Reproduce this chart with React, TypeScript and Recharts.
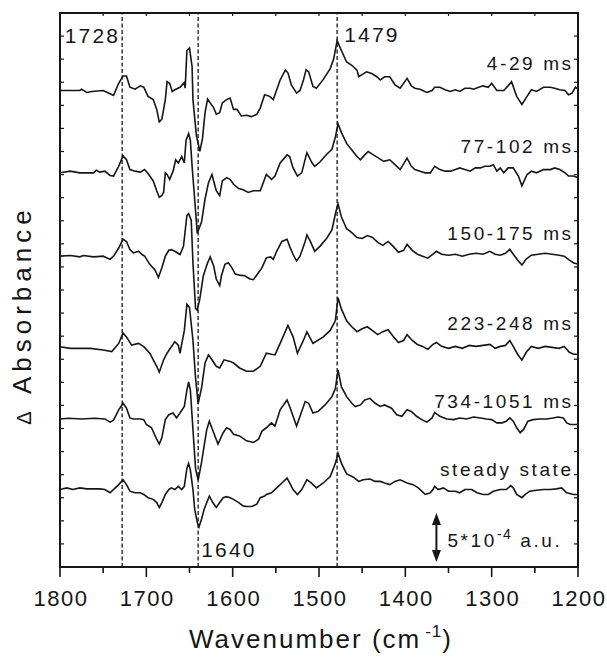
import React from "react";
import { LineChart, Line, XAxis, YAxis, ReferenceLine, ReferenceArea, ReferenceDot } from "recharts";

// [wavenumber (cm-1), ΔA in 1e-5 a.u. relative to that trace's own baseline]
const trace4to29ms: [number, number][] = [
  [1800, 0], [1777, 0], [1775, 1.3], [1769, -2], [1763, -1], [1750, 0], [1742, -3.3], [1738, -5], [1732, 7.3],
  [1727, 14.7], [1723, 14.7], [1719, 3.3], [1713, 1.3], [1707, 4.7], [1703, 3.3], [1698, -6], [1692, -9.3],
  [1688, -19.3], [1685, -32], [1682, -29.3], [1678, -9.3], [1676, 9], [1673, 7.3], [1670, -1], [1667, 0.7],
  [1661, 3.3], [1656, 8], [1655, 2.3], [1653, 40.7], [1650, 43.3], [1647, 24], [1646, -9.3], [1642, -46],
  [1638, -62], [1635, -49.3], [1632, -22.7], [1629, -8.7], [1626, -12.7], [1622, -17.7], [1619, -24.3],
  [1615, -22.7], [1612, -12.7], [1607, -9.3], [1603, -7.7], [1599, -19.3], [1595, -19.3], [1590, -26],
  [1584, -25.3], [1578, -26.7], [1572, -24.3], [1568, -17.7], [1563, -4.3], [1557, -6], [1553, -9.3],
  [1545, 10.7], [1539, 20.7], [1536, 18], [1532, 5.7], [1526, -2.7], [1522, 0], [1518, 10.7], [1515, 21],
  [1512, 19], [1507, 4], [1503, 2.3], [1495, 11.3], [1487, 22.3], [1483, 32.3], [1479, 50.7], [1474, 40.7],
  [1468, 29], [1462, 25.7], [1456, 20.7], [1454, 14], [1451, 15.7], [1445, 19], [1439, 17.3], [1433, 14],
  [1429, 10.7], [1424, 14], [1418, 14], [1412, 5.7], [1406, 2.3], [1398, 12.3], [1393, 4.7], [1389, 2.3],
  [1383, 1.3], [1375, -2], [1369, 0], [1366, 3.3], [1360, 3.3], [1354, 0.7], [1348, -1], [1342, 0.7],
  [1337, -1], [1331, 2.3], [1325, 2.3], [1321, 1.3], [1315, 3.3], [1310, 4.7], [1304, 3.3], [1300, 7.3],
  [1294, 0], [1286, 0], [1281, 4.7], [1277, 9], [1271, -6], [1265, -14.3], [1259, -6], [1254, 0.7],
  [1248, -1], [1240, 3.3], [1232, 3.3], [1227, 2.3], [1221, 0.7], [1215, 0], [1211, -4.3], [1207, -2.7],
  [1203, 3.3], [1200, 1.3],
];

const trace77to102ms: [number, number][] = [
  [1800, 0], [1788, 1.7], [1777, 0], [1761, 0], [1758, 2.7], [1754, 0.7], [1748, 1.7], [1742, -2.7],
  [1738, -3.3], [1732, 6.7], [1727, 17.3], [1723, 13.3], [1719, 3.3], [1713, 1.7], [1707, 0.7], [1702, 3.3],
  [1698, -0.7], [1692, -8.3], [1688, -18.3], [1685, -25], [1682, -23], [1680, -20], [1678, 0], [1676, -1.7],
  [1673, -6.7], [1669, 1.7], [1666, 13.3], [1663, 10], [1659, 16.7], [1656, 10], [1654, 33.3], [1651, 40],
  [1649, 33.3], [1647, 6.7], [1644, -26.7], [1641, -61.7], [1636, -50], [1632, -26.7], [1628, -10],
  [1624, -1.7], [1622, -8.3], [1619, -18.3], [1615, -23.3], [1612, -8.3], [1607, -5], [1603, -6.7],
  [1599, -11.7], [1593, -16], [1588, -17.3], [1582, -20], [1576, -18.3], [1568, -18.3], [1561, -1.7],
  [1555, -6.7], [1551, -3.3], [1545, 10], [1537, 18.3], [1534, 16.7], [1530, 5], [1525, -3.3], [1520, 0],
  [1516, 14], [1514, 20.5], [1508, 10], [1505, 6.7], [1499, 11], [1491, 19], [1485, 24], [1481, 36.7],
  [1478, 50], [1474, 41], [1468, 30], [1462, 23.3], [1456, 16.7], [1452, 13.3], [1447, 18.3], [1443, 21.7],
  [1437, 18.3], [1431, 15], [1425, 11.7], [1418, 13.3], [1412, 8.3], [1406, 3.3], [1398, 15], [1393, 6.7],
  [1389, 3.3], [1383, 1.7], [1377, 0], [1371, 0], [1366, 6.7], [1360, 3.3], [1354, 1.7], [1348, 1.7],
  [1342, 3.3], [1337, 5], [1331, 3.3], [1325, 1.7], [1319, 5], [1313, 5], [1308, 6.7], [1302, 6.7],
  [1298, 8.3], [1294, 1.7], [1290, 5], [1286, 0], [1281, 5], [1275, 5], [1269, -3.3], [1265, -13.3],
  [1259, -1.7], [1254, 1.7], [1248, 0], [1240, 3.3], [1232, 3.3], [1227, 5], [1221, 3.3], [1215, 0],
  [1211, -3.3], [1205, -3.3], [1200, -5],
];

const trace150to175ms: [number, number][] = [
  [1800, 0], [1788, 0.7], [1777, -0.7], [1773, 0.7], [1761, -0.7], [1750, 0], [1742, -3.3], [1738, 0],
  [1732, 8.3], [1727, 17.3], [1723, 15], [1719, 6.7], [1715, 3.3], [1709, 5], [1705, 1.7], [1702, 0],
  [1696, -8.3], [1690, -14], [1686, -21.7], [1682, -11.7], [1678, 0], [1674, 6], [1671, 6.7], [1667, 5],
  [1661, 1.7], [1657, 10], [1653, 41.7], [1651, 43.3], [1648, 36.7], [1646, -6.7], [1643, -53.3],
  [1641, -55], [1638, -43.3], [1634, -20], [1629, -6.7], [1626, -0.7], [1622, -10], [1619, -23.3],
  [1615, -30], [1613, -20], [1609, -8.3], [1605, -6.7], [1601, -11.7], [1597, -18.3], [1592, -19.3],
  [1586, -20], [1580, -23.3], [1576, -24], [1570, -16.7], [1566, -11.7], [1561, -1.7], [1556, -0.7],
  [1553, -3.3], [1549, 5], [1543, 15], [1537, 17.3], [1534, 10], [1530, 1.7], [1526, -5], [1522, 0],
  [1516, 15], [1514, 21.7], [1510, 15], [1505, 5], [1499, 10], [1491, 18.3], [1485, 26.7], [1481, 43.3],
  [1478, 53.3], [1474, 40], [1468, 28], [1462, 24], [1456, 19], [1450, 18], [1444, 21], [1438, 19],
  [1432, 14], [1426, 11], [1420, 15], [1414, 10], [1408, 4], [1402, 6], [1398, 12], [1392, 6], [1386, 2],
  [1380, 0], [1374, -2], [1368, 2], [1364, 5], [1358, 2], [1350, 1], [1342, 2], [1334, 0], [1326, 2],
  [1318, 3], [1310, 2], [1302, 5], [1296, 2], [1290, 1], [1284, 3], [1279, 7], [1275, 2], [1270, -4],
  [1265, -9], [1260, -3], [1254, 1], [1246, 2], [1238, 3], [1230, 2], [1222, 1], [1216, 0], [1210, -4],
  [1205, -7], [1200, -8],
];

const trace223to248ms: [number, number][] = [
  [1800, 1.7], [1788, 0], [1777, 0], [1765, 0], [1750, -1.7], [1740, -3.3], [1732, 5], [1727, 15.7],
  [1723, 11.7], [1717, 3.3], [1709, 5], [1703, 1.7], [1696, -5], [1688, -18.3], [1685, -24.3], [1680, -11.7],
  [1676, -5], [1671, 1.7], [1667, 6.7], [1663, 3.3], [1661, -5], [1656, 18.3], [1653, 45], [1650, 41.7],
  [1646, 8.3], [1643, -30], [1640, -56.7], [1636, -40], [1632, -15], [1628, -6.7], [1624, -11.7],
  [1619, -18.3], [1615, -20], [1610, -11.7], [1603, -13.3], [1599, -15], [1592, -20], [1584, -23.3],
  [1576, -23.3], [1568, -18.3], [1561, -5], [1551, -6.7], [1545, 5], [1536, 23.3], [1530, 11.7], [1525, -5],
  [1518, 8.3], [1514, 16.7], [1507, 5], [1495, 11.7], [1487, 18.3], [1481, 28.3], [1478, 51.7], [1474, 40],
  [1468, 28], [1462, 22], [1456, 17], [1450, 20], [1444, 22], [1438, 18], [1432, 14], [1426, 17], [1420, 19],
  [1414, 12], [1408, 6], [1402, 8], [1398, 14], [1392, 8], [1386, 4], [1380, 2], [1374, -1], [1368, 4],
  [1364, 6], [1358, 2], [1350, 0], [1342, 2], [1334, 0], [1326, 3], [1318, 2], [1310, 3], [1302, 4],
  [1296, 0], [1290, 2], [1284, 3], [1279, 8], [1275, 2], [1270, -6], [1265, -12], [1260, -4], [1254, 2],
  [1246, 0], [1238, 2], [1230, 1], [1222, 0], [1216, 2], [1210, -4], [1205, -6], [1200, -6],
];

const trace734to1051ms: [number, number][] = [
  [1800, 0], [1790, 0.7], [1775, 0], [1760, 0.7], [1748, 0], [1742, -3.3], [1738, -1.3], [1732, 9.3],
  [1727, 16], [1723, 11], [1719, 1], [1715, 0], [1707, 0], [1703, -0.7], [1700, -5.7], [1694, -9],
  [1688, -20.7], [1685, -25.7], [1682, -19], [1678, -0.7], [1674, 4.3], [1669, 6], [1665, 1], [1661, 6],
  [1656, 12.7], [1653, 29.3], [1651, 37.7], [1649, 29.3], [1646, -10.7], [1643, -50.7], [1640, -62.3],
  [1636, -44], [1633, -27.3], [1630, -10.7], [1627, -2.3], [1622, -14], [1617, -25.7], [1611, -14],
  [1607, -9], [1603, -10.7], [1599, -15.7], [1592, -17.3], [1584, -22.3], [1576, -24], [1570, -20.7],
  [1566, -12.3], [1561, -9], [1555, -4], [1551, -7.3], [1545, 9.3], [1537, 19.3], [1534, 12.7], [1530, 2.7],
  [1526, -7.3], [1522, 2.7], [1516, 17.7], [1512, 16], [1507, 6], [1501, 7.7], [1493, 14.3], [1485, 22.7],
  [1481, 31], [1478, 50], [1474, 32.7], [1468, 22.7], [1462, 16], [1458, 12.7], [1452, 14.3], [1447, 19.3],
  [1441, 21], [1435, 16], [1429, 12.7], [1424, 14.3], [1416, 11], [1410, 4.3], [1404, 2.7], [1398, 9.3],
  [1393, 7.7], [1387, 2.7], [1381, -0.7], [1375, -3.3], [1369, 1], [1366, 6.7], [1360, 2.7], [1352, 0],
  [1344, -0.7], [1337, 1], [1329, 0], [1321, 2], [1313, 1], [1306, 0], [1300, -0.7], [1294, -4], [1288, -4],
  [1283, -2.3], [1279, 1], [1275, -2.3], [1271, -9], [1267, -14], [1263, -10.7], [1258, -2.3], [1252, -0.7],
  [1244, 0], [1236, 0], [1229, 1], [1223, 2], [1217, 1], [1213, -4], [1209, -5.7], [1200, -5.7],
];

const traceSteadyState: [number, number][] = [
  [1800, 0], [1792, 1.7], [1785, 0], [1777, 1.7], [1769, 0.7], [1754, 0.7], [1748, 0], [1742, -3.3],
  [1736, 1.7], [1732, 5], [1727, 10], [1723, 5], [1719, -1.7], [1713, -3.3], [1707, -3.3], [1703, -5],
  [1698, -8.3], [1692, -10], [1688, -13.3], [1685, -18.3], [1682, -13.3], [1678, -5], [1674, 0], [1671, 1.7],
  [1667, 0], [1663, 3.3], [1659, 0], [1656, 3.3], [1653, 21.7], [1651, 26.7], [1649, 20], [1646, 0],
  [1644, -20], [1641, -33.3], [1639, -38.3], [1636, -30], [1633, -20], [1630, -13.3], [1627, -6.7],
  [1623, -13.3], [1619, -18.3], [1615, -13.3], [1611, -8.3], [1607, -7.3], [1603, -8.3], [1599, -10],
  [1593, -13.3], [1588, -16.7], [1584, -17.3], [1578, -17.3], [1572, -15], [1568, -8.3], [1563, -6.7],
  [1561, -5], [1555, -3.3], [1549, 1.7], [1543, 6.7], [1537, 11.7], [1534, 6.7], [1530, 0], [1525, -5],
  [1520, 0], [1514, 10], [1509, 6.7], [1503, 1.7], [1495, 6.7], [1487, 13.3], [1481, 26.7], [1478, 37],
  [1474, 26.7], [1468, 16], [1460, 12.5], [1454, 8.3], [1449, 10], [1441, 10.7], [1435, 8.3], [1429, 8.3],
  [1424, 6.7], [1418, 5], [1412, 8.3], [1406, 10], [1398, 6.7], [1391, 5], [1385, 1.7], [1377, -5],
  [1371, -3.3], [1368, 0], [1366, 3.3], [1362, 0], [1356, 1.7], [1350, -1.7], [1342, -1.7], [1337, -3.3],
  [1331, 0], [1323, 0], [1317, -3.3], [1310, -5], [1304, -5], [1298, -1.7], [1290, 0], [1283, 0], [1278, 4],
  [1275, 1.7], [1271, -5], [1265, -8.3], [1261, -5], [1256, -1.7], [1248, -0.7], [1240, 0], [1232, 0],
  [1225, 0.7], [1219, 1.7], [1213, -3.3], [1205, -5], [1200, -5],
];

const traces = [trace4to29ms, trace77to102ms, trace150to175ms, trace223to248ms, trace734to1051ms, traceSteadyState];
const traceNames = ["4-29 ms", "77-102 ms", "150-175 ms", "223-248 ms", "734-1051 ms", "steady state"];
// vertical stacking offsets, 1e-5 a.u.
const traceOffsets = [486, 402, 317, 223, 151, 79];
const peakMarks = [1728, 1640, 1479];
const xTicks = [1800, 1750, 1700, 1650, 1600, 1550, 1500, 1450, 1400, 1350, 1300, 1250, 1200];
const scaleBarUnits = 50; // 5*10^-4 a.u.

// layout
const W = 607;
const H = 658;
const X_AXIS_H = 91;
const Y_AXIS_W = 60;
const MARGIN = { top: 13, right: 29, bottom: 0, left: 0 };
const PLOT_W = W - Y_AXIS_W - MARGIN.right;
const PLOT_H = H - MARGIN.top - X_AXIS_H;
const Y_MAX = 565;
const yTicks = Array.from({ length: 25 }, (_, i) => (i * Y_MAX) / 24);
const INK = "#161616";
const FONT = '"Liberation Sans", Arial, Helvetica, sans-serif';
const nameLevels = [507, 422, 333, 242, 162, 93];
const SCALE_BAR_X = 1364;

const chartData = traces.map((t, i) => t.map(([x, v]) => ({ x, y: v + traceOffsets[i] })));

function XTick({ x, y, payload }: any) {
  const v = payload.value;
  const major = v % 100 === 0;
  return (
    <g>
      <line x1={x} x2={x} y1={y} y2={y + (major ? 10 : 6)} stroke={INK} strokeWidth={1.6} />
      <line x1={x} x2={x} y1={y - PLOT_H} y2={y - PLOT_H + 3} stroke={INK} strokeWidth={1.2} />
      {major && (
        <text x={x + 1} y={y + 39} textAnchor="middle" fill={INK} fontSize={22} letterSpacing={1.5} fontFamily={FONT}>
          {v}
        </text>
      )}
    </g>
  );
}

function YTick({ x, y }: any) {
  return (
    <g>
      <line x1={x} x2={x + 4} y1={y} y2={y} stroke={INK} strokeWidth={1.2} />
      <line x1={x + PLOT_W} x2={x + PLOT_W - 4} y1={y} y2={y} stroke={INK} strokeWidth={1.2} />
    </g>
  );
}

function XTitle({ viewBox }: any) {
  const cx = viewBox.x + viewBox.width / 2 + 2;
  return (
    <text x={cx} y={viewBox.y + 81} textAnchor="middle" fill={INK} fontSize={26} letterSpacing={2} fontFamily={FONT}>
      Wavenumber (cm
      <tspan dx={4} dy={-11} fontSize={17} letterSpacing={1}>-1</tspan>
      <tspan dy={11}>)</tspan>
    </text>
  );
}

function YTitle({ viewBox }: any) {
  const cx = viewBox.x + viewBox.width - 29;
  const cy = viewBox.y + viewBox.height / 2 + 25;
  return (
    <text
      x={cx}
      y={cy}
      transform={`rotate(-90, ${cx}, ${cy})`}
      textAnchor="middle"
      fill={INK}
      fontSize={26}
      letterSpacing={5}
      fontFamily={FONT}
    >
      <tspan fontSize={20}>Δ</tspan> Absorbance
    </text>
  );
}

function peakLabel(wn: number) {
  return (p: any) => {
    const vb = p.viewBox;
    if (wn === 1728)
      return (
        <text x={vb.x - 2} y={vb.y + 30} textAnchor="end" fill={INK} fontSize={21} letterSpacing={2.2} fontFamily={FONT}>
          {wn}
        </text>
      );
    if (wn === 1479)
      return (
        <text x={vb.x + 7} y={vb.y + 29} fill={INK} fontSize={21} letterSpacing={2.2} fontFamily={FONT}>
          {wn}
        </text>
      );
    return (
      <text x={vb.x + 3} y={vb.y + vb.height - 10} fill={INK} fontSize={21} letterSpacing={2.2} fontFamily={FONT}>
        {wn}
      </text>
    );
  };
}

function ScaleBar({ x1, y1, y2 }: any) {
  const top = Math.min(y1, y2);
  const bottom = Math.max(y1, y2);
  return (
    <g>
      <line x1={x1} x2={x1} y1={top + 8} y2={bottom - 8} stroke={INK} strokeWidth={2} />
      <polygon points={`${x1},${top} ${x1 - 4.5},${top + 12} ${x1 + 4.5},${top + 12}`} fill={INK} />
      <polygon points={`${x1},${bottom} ${x1 - 4.5},${bottom - 12} ${x1 + 4.5},${bottom - 12}`} fill={INK} />
      <text x={x1 + 11} y={bottom - 15} fill={INK} fontSize={19} letterSpacing={2.6} fontFamily={FONT}>
        5*10
        <tspan dy={-8} fontSize={14} letterSpacing={1.5}>-4</tspan>
        <tspan dy={8}> a.u.</tspan>
      </text>
    </g>
  );
}

export default function App() {
  return (
    <div style={{ position: "absolute", left: 0, top: 0, width: W, height: H, background: "#fff" }}>
      <LineChart width={W} height={H} margin={MARGIN}>
        <XAxis
          dataKey="x"
          type="number"
          domain={[1200, 1800]}
          reversed
          allowDataOverflow
          ticks={xTicks}
          interval={0}
          height={X_AXIS_H}
          tickSize={0}
          tickMargin={0}
          tickLine={false}
          axisLine={false}
          tick={<XTick />}
          label={<XTitle />}
        />
        <YAxis
          type="number"
          domain={[0, Y_MAX]}
          allowDataOverflow
          ticks={yTicks}
          interval={0}
          width={Y_AXIS_W}
          tickSize={0}
          tickMargin={0}
          tickLine={false}
          axisLine={false}
          tick={<YTick />}
          label={<YTitle />}
        />
        <ReferenceArea x1={1800} x2={1200} y1={0} y2={Y_MAX} fill="none" stroke={INK} strokeWidth={2} />
        {peakMarks.map((wn) => (
          <ReferenceLine key={wn} x={wn} stroke={INK} strokeWidth={1.3} strokeDasharray="4 2.5" label={peakLabel(wn)} />
        ))}
        {chartData.map((d, i) => (
          <Line
            key={traceNames[i]}
            data={d}
            dataKey="y"
            type="linear"
            stroke={INK}
            strokeWidth={1.6}
            dot={false}
            activeDot={false}
            isAnimationActive={false}
          />
        ))}
        {traceNames.map((name, i) => (
          <ReferenceDot
            key={name}
            x={1205}
            y={nameLevels[i]}
            r={0}
            shape={(p: any) => (
              <text x={p.cx} y={p.cy} textAnchor="end" fill={INK} fontSize={19} letterSpacing={2.6} fontFamily={FONT}>
                {name}
              </text>
            )}
          />
        ))}
        <ReferenceLine
          segment={[
            { x: SCALE_BAR_X, y: 5 },
            { x: SCALE_BAR_X, y: 5 + scaleBarUnits },
          ]}
          stroke={INK}
          shape={(p: any) => <ScaleBar {...p} />}
        />
      </LineChart>
    </div>
  );
}
